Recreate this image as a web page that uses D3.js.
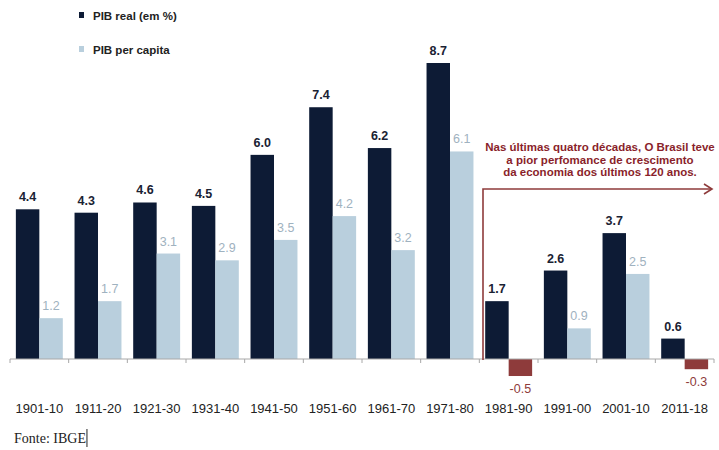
<!DOCTYPE html>
<html>
<head>
<meta charset="utf-8">
<script src="https://cdn.jsdelivr.net/npm/d3@7"></script>
<style>
  html, body { margin: 0; padding: 0; background: #fff; }
  svg { display: block; font-family: "Liberation Sans", Arial, sans-serif; }
</style>
</head>
<body>
<svg id="chart" width="719" height="450"></svg>
<script>
// Decades and growth rates (% a.a.)
const decades = ["1901-10","1911-20","1921-30","1931-40","1941-50","1951-60",
                 "1961-70","1971-80","1981-90","1991-00","2001-10","2011-18"];
const pibReal = [4.4, 4.3, 4.6, 4.5, 6.0, 7.4, 6.2, 8.7, 1.7, 2.6, 3.7, 0.6];
const pibPerCapita = [1.2, 1.7, 3.1, 2.9, 3.5, 4.2, 3.2, 6.1, -0.5, 0.9, 2.5, -0.3];
const seriesNames = ["PIB real (em %)", "PIB per capita"];
const noteLines = ["Nas últimas quatro décadas, O Brasil teve",
                   "a pior perfomance de crescimento",
                   "da economia dos últimos 120 anos."];
const sourceText = "Fonte: IBGE";

const colDark = "#0d1b35";
const colLight = "#b9cfdd";
const colNeg = "#8e3b3b";
const colNote = "#8a1f2b";

const svg = d3.select("#chart");
const baseY = 359;

const x0 = d3.scaleBand().domain(decades).range([10, 714])
  .paddingInner(0.2).paddingOuter(0.1);
const x1 = d3.scaleBand().domain([0, 1]).range([0, x0.bandwidth()]);
const y = d3.scaleLinear().domain([0, 8.7]).range([baseY, 63]);

const rows = decades.map((d, i) => ({ d, vals: [pibReal[i], pibPerCapita[i]] }));

const g = svg.append("g");
const grp = g.selectAll("g.dec").data(rows).join("g")
  .attr("transform", r => `translate(${x0(r.d)},0)`);

grp.selectAll("rect").data(r => r.vals.map((v, k) => ({ v, k }))).join("rect")
  .attr("x", o => x1(o.k))
  .attr("width", x1.bandwidth())
  .attr("y", o => o.v >= 0 ? y(o.v) : y(0))
  .attr("height", o => Math.abs(y(o.v) - y(0)))
  .attr("fill", o => o.k === 0 ? colDark : (o.v < 0 ? colNeg : colLight));

grp.selectAll("text.val").data(r => r.vals.map((v, k) => ({ v, k }))).join("text")
  .attr("class", "val")
  .attr("x", o => x1(o.k) + x1.bandwidth() / 2)
  .attr("y", o => o.v >= 0 ? y(o.v) - 8 : y(o.v) + 17)
  .attr("text-anchor", "middle")
  .attr("font-size", 12.5)
  .attr("font-weight", o => o.k === 0 ? "bold" : "normal")
  .attr("fill", o => o.k === 0 ? "#1a2233" : (o.v < 0 ? colNeg : "#9fb2c0"))
  .text(o => o.v.toFixed(1));

// Baseline axis with small ticks at decade boundaries
const step = x0.step();
const edges = d3.range(decades.length + 1).map(i => 10 + i * step);
g.append("line").attr("x1", 10).attr("x2", 714).attr("y1", baseY).attr("y2", baseY)
  .attr("stroke", "#a8a8a8").attr("stroke-width", 1);
g.selectAll("line.tick").data(edges).join("line").attr("class", "tick")
  .attr("x1", d => d).attr("x2", d => d).attr("y1", baseY).attr("y2", baseY + 4)
  .attr("stroke", "#a8a8a8");

g.selectAll("text.cat").data(decades).join("text").attr("class", "cat")
  .attr("x", d => x0(d) + x0.bandwidth() / 2)
  .attr("y", 413)
  .attr("text-anchor", "middle")
  .attr("font-size", 13)
  .attr("fill", "#222")
  .text(d => d);

// Legend
const leg = svg.append("g");
seriesNames.forEach((name, i) => {
  const ly = 16 + i * 34;
  leg.append("rect").attr("x", 79).attr("y", ly - 4).attr("width", 5).attr("height", 6)
    .attr("fill", i === 0 ? colDark : colLight);
  leg.append("text").attr("x", 93).attr("y", ly + 4)
    .attr("font-size", 11.5).attr("font-weight", "bold").attr("fill", "#222")
    .text(name);
});

// Annotation: bracket arrow over the last four decades
const ax = 483, ay = 189, aEnd = 712;
const ann = svg.append("g");
ann.append("path")
  .attr("d", `M${ax},${baseY + 1} V${ay} H${aEnd}`)
  .attr("fill", "none").attr("stroke", colNeg).attr("stroke-width", 1.6);
ann.append("path")
  .attr("d", `M${aEnd - 8},${ay - 5} L${aEnd},${ay} L${aEnd - 8},${ay + 5}`)
  .attr("fill", "none").attr("stroke", colNeg).attr("stroke-width", 1.6);
ann.selectAll("text").data(noteLines).join("text")
  .attr("x", 600).attr("y", (d, i) => 151 + i * 12.5)
  .attr("text-anchor", "middle")
  .attr("font-size", 11.5).attr("font-weight", "bold").attr("fill", colNote)
  .text(d => d);

// Source line in a serif face, followed by a caret mark
const src = svg.append("text").attr("x", 14).attr("y", 443)
  .attr("font-family", "'Liberation Serif', 'Times New Roman', serif")
  .attr("font-size", 14).attr("fill", "#222")
  .text(sourceText);
const sw = src.node().getComputedTextLength();
svg.append("line").attr("x1", 14 + sw + 1).attr("x2", 14 + sw + 1)
  .attr("y1", 429).attr("y2", 447).attr("stroke", "#222").attr("stroke-width", 1);
</script>
</body>
</html>
